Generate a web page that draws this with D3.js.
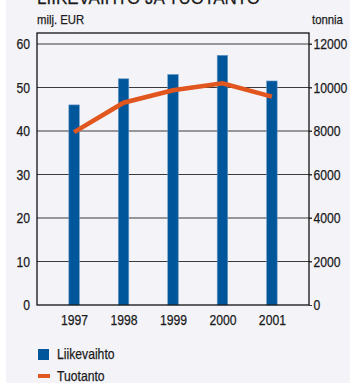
<!DOCTYPE html>
<html><head><meta charset="utf-8">
<script src="https://cdn.jsdelivr.net/npm/d3@7"></script>
<style>
html,body{margin:0;padding:0;background:#fff;}
svg{display:block;}
text{font-family:"Liberation Sans",Arial,sans-serif;fill:#1a1a1a;stroke:#1a1a1a;stroke-width:0.25px;}
</style></head>
<body><svg id="c" width="350" height="383"></svg>
<script>
const years = ["1997","1998","1999","2000","2001"];
const liikevaihto = [46, 52, 53, 57.4, 51.5];
const tuotanto = [7950, 9300, 9870, 10190, 9580];
const leftTicks = [0,10,20,30,40,50,60];
const rightTicks = [0,2000,4000,6000,8000,10000,12000];
const title = "LIIKEVAIHTO JA TUOTANTO";
const leftUnit = "milj. EUR", rightUnit = "tonnia";
const legendLabels = ["Liikevaihto","Tuotanto"];

const svg = d3.select("#c");
svg.append("rect").attr("x",6).attr("y",0).attr("width",344).attr("height",383).attr("fill","#f4f3f8");

const L=37, R=309, T=33, B=305;
const y = d3.scaleLinear().domain([0,60]).range([B,44]);
const y2 = d3.scaleLinear().domain([0,12000]).range([B,44]);
const x = d3.scalePoint().domain(years).range([L,R]).padding(0.75);

svg.append("text").attr("x",37).attr("y",24).attr("font-size",13.5).text(leftUnit);
svg.append("text").attr("x",312).attr("y",24).attr("font-size",13.5).text(rightUnit);

// gridlines
svg.append("g").selectAll("line").data(leftTicks.filter(d=>d>0)).join("line")
  .attr("x1",L).attr("x2",R+3).attr("y1",d=>y(d)).attr("y2",d=>y(d))
  .attr("stroke","#3a3a3a").attr("stroke-width",1);

// left axis
const gl = svg.append("g").attr("transform",`translate(${L},0)`)
  .call(d3.axisLeft(y).tickValues(leftTicks).tickSize(0).tickPadding(7));
gl.select(".domain").remove();
gl.selectAll("text").attr("font-size",14.5).attr("font-family",null);

// right axis
const gr = svg.append("g").attr("transform",`translate(${R},0)`)
  .call(d3.axisRight(y2).tickValues(rightTicks).tickSize(3).tickPadding(1.5).tickFormat(d3.format("d")));
gr.select(".domain").remove();
gr.selectAll("line").attr("stroke","#3a3a3a");
gr.selectAll("text").attr("font-size",14.5).attr("font-family",null);

// x axis labels
const gx = svg.append("g").attr("transform",`translate(0,${B})`)
  .call(d3.axisBottom(x).tickSize(0).tickPadding(10));
gx.select(".domain").remove();
gx.selectAll("text").attr("font-size",14.5).attr("font-family",null);

// bars
const bw = 10.5;
svg.append("g").selectAll("rect").data(liikevaihto).join("rect")
  .attr("x",(d,i)=>x(years[i])-bw/2).attr("width",bw)
  .attr("y",d=>y(d)).attr("height",d=>B-y(d))
  .attr("fill","#00569a").attr("stroke","#6b9bc8").attr("stroke-width",0.6);

// line
svg.append("path").datum(tuotanto)
  .attr("d",d3.line().x((d,i)=>x(years[i])).y(d=>y2(d)))
  .attr("fill","none").attr("stroke","#e0561e").attr("stroke-width",4.5);

// frame
svg.append("rect").attr("x",L).attr("y",T).attr("width",R-L).attr("height",B-T)
  .attr("fill","none").attr("stroke","#111").attr("stroke-width",1.3);

// legend
svg.append("rect").attr("x",38).attr("y",349).attr("width",11).attr("height",11).attr("fill","#00569a");
svg.append("text").attr("x",57).attr("y",359).attr("font-size",14.5).text(legendLabels[0]);
svg.append("rect").attr("x",38).attr("y",374).attr("width",12).attr("height",4).attr("fill","#e0561e");
svg.append("text").attr("x",57).attr("y",381).attr("font-size",14.5).text(legendLabels[1]);

// condense all text (narrow typeface look)
svg.selectAll("text").each(function(){
  const w = this.getComputedTextLength();
  d3.select(this).attr("textLength", w*0.84).attr("lengthAdjust","spacingAndGlyphs");
});

// title (cut off at top, as in the reference)
svg.append("text").attr("x",37).attr("y",3.5).attr("font-size",18)
  .attr("textLength",223).attr("lengthAdjust","spacingAndGlyphs")
  .text(title);
</script></body></html>
